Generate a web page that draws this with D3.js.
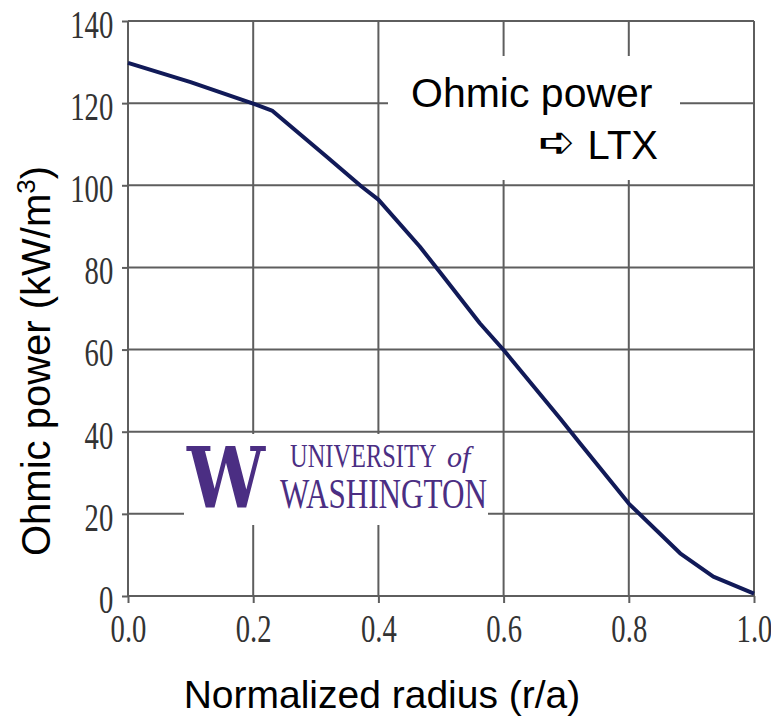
<!DOCTYPE html>
<html>
<head>
<meta charset="utf-8">
<script src="https://cdn.jsdelivr.net/npm/d3@7"></script>
<style>
  body { margin: 0; background: #fff; }
</style>
</head>
<body>
<div id="chart"></div>
<script>
// data
const radius = [0, 0.1, 0.2, 0.23, 0.317, 0.373, 0.4, 0.466, 0.5, 0.562, 0.6, 0.69, 0.722, 0.8, 0.882, 0.935, 1.0];
const power  = [129.8, 125.1, 119.9, 118.2, 107, 99.7, 96.5, 85.1, 78.5, 66.4, 59.9, 43.3, 37.2, 22.5, 10.4, 4.7, 0.6];
const xTicks = [0, 0.2, 0.4, 0.6, 0.8, 1.0];
const yTicks = [0, 20, 40, 60, 80, 100, 120, 140];

const W = 771, H = 720;
const gridColor = "#5e5e5e";
const purple = "#4b2e83";

const svg = d3.select("#chart")
  .append("svg")
    .attr("width", W)
    .attr("height", H);

// scales
const x = d3.scaleLinear().domain([0, 1]).range([128, 754]);
const y = d3.scaleLinear().domain([0, 140]).range([596, 21]);

// grid
svg.append("g")
  .selectAll("line")
  .data(yTicks)
  .join("line")
    .attr("x1", x(0)).attr("x2", x(1))
    .attr("y1", d => y(d)).attr("y2", d => y(d))
    .attr("stroke", gridColor).attr("stroke-width", 2);

svg.append("g")
  .selectAll("line")
  .data(xTicks)
  .join("line")
    .attr("x1", d => x(d)).attr("x2", d => x(d))
    .attr("y1", y(0)).attr("y2", y(140))
    .attr("stroke", gridColor).attr("stroke-width", 2);

// axes (ticks + labels only, frame is the grid)
const yAxis = svg.append("g")
  .attr("transform", `translate(${x(0)},0)`)
  .call(d3.axisLeft(y).tickValues(yTicks).tickSize(6).tickFormat(d3.format("d")));
const xAxis = svg.append("g")
  .attr("transform", `translate(0,${y(0)})`)
  .call(d3.axisBottom(x).tickValues(xTicks).tickSize(7).tickFormat(d3.format(".1f")));

[yAxis, xAxis].forEach(g => {
  g.select(".domain").remove();
  g.selectAll(".tick line").attr("stroke", gridColor).attr("stroke-width", 2);
  g.selectAll(".tick text")
    .attr("font-family", "'Liberation Serif', 'DejaVu Serif', serif")
    .attr("font-size", 41)
    .attr("fill", "#333");
});
yAxis.selectAll(".tick text")
  .attr("x", -21).attr("dy", "0.4em")
  .attr("transform", "scale(0.7,1)");
xAxis.selectAll(".tick text")
  .attr("y", 46).attr("dy", 0)
  .attr("transform", "scale(0.7,1)");

// axis titles
svg.append("text")
  .attr("transform", "translate(50,361) rotate(-90)")
  .attr("text-anchor", "middle")
  .attr("font-family", "'Liberation Sans', Arial, sans-serif")
  .attr("font-size", 40)
  .attr("fill", "#000")
  .text("Ohmic power (kW/m")
  .append("tspan")
    .attr("baseline-shift", "super")
    .attr("font-size", 26)
    .text("3")
  .select(function() { return this.parentNode; })
  .append("tspan")
    .text(")");

svg.append("text")
  .attr("x", 382).attr("y", 708)
  .attr("text-anchor", "middle")
  .attr("font-family", "'Liberation Sans', Arial, sans-serif")
  .attr("font-size", 39)
  .attr("fill", "#000")
  .text("Normalized radius (r/a)");

// annotation box
svg.append("rect")
  .attr("x", 388).attr("y", 56)
  .attr("width", 292).attr("height", 124)
  .attr("fill", "#fff");
svg.append("text")
  .attr("x", 411).attr("y", 107)
  .attr("font-family", "'Liberation Sans', Arial, sans-serif")
  .attr("font-size", 41)
  .text("Ohmic power");
svg.append("text")
  .attr("x", 658).attr("y", 159)
  .attr("text-anchor", "end")
  .attr("font-family", "'Liberation Sans', Arial, sans-serif")
  .attr("font-size", 40)
  .text("LTX");
svg.append("text")
  .attr("x", 557).attr("y", 157)
  .attr("text-anchor", "middle")
  .attr("font-family", "'DejaVu Sans', sans-serif")
  .attr("font-size", 44)
  .text("\u27AA");

// UW logo
svg.append("rect")
  .attr("x", 184).attr("y", 434)
  .attr("width", 304).attr("height", 91)
  .attr("fill", "#fff");
svg.append("text")
  .attr("x", 187).attr("y", 508)
  .attr("font-family", "'DejaVu Serif', serif")
  .attr("font-weight", "bold")
  .attr("font-size", 84)
  .attr("textLength", 78)
  .attr("lengthAdjust", "spacingAndGlyphs")
  .attr("fill", purple)
  .text("W");

// condensed serif word, squeezed with a transform
svg.append("text")
  .attr("transform", "translate(290,467) scale(0.74,1)")
  .attr("font-family", "'Liberation Serif', serif")
  .attr("font-size", 33)
  .attr("fill", purple)
  .text("UNIVERSITY");
svg.append("text")
  .attr("x", 447).attr("y", 467)
  .attr("font-family", "'Liberation Serif', serif")
  .attr("font-style", "italic")
  .attr("font-size", 30)
  .attr("fill", purple)
  .text("of");

svg.append("text")
  .attr("x", 280).attr("y", 508)
  .attr("font-family", "'Liberation Serif', serif")
  .attr("font-size", 42)
  .attr("textLength", 207)
  .attr("lengthAdjust", "spacingAndGlyphs")
  .attr("fill", purple)
  .text("WASHINGTON");

// curve
const line = d3.line()
  .x((d, i) => x(radius[i]))
  .y(d => y(d));
svg.append("path")
  .datum(power)
  .attr("fill", "none")
  .attr("stroke", "#111a58")
  .attr("stroke-width", 4)
  .attr("stroke-linejoin", "round")
  .attr("d", line);
</script>
</body>
</html>
